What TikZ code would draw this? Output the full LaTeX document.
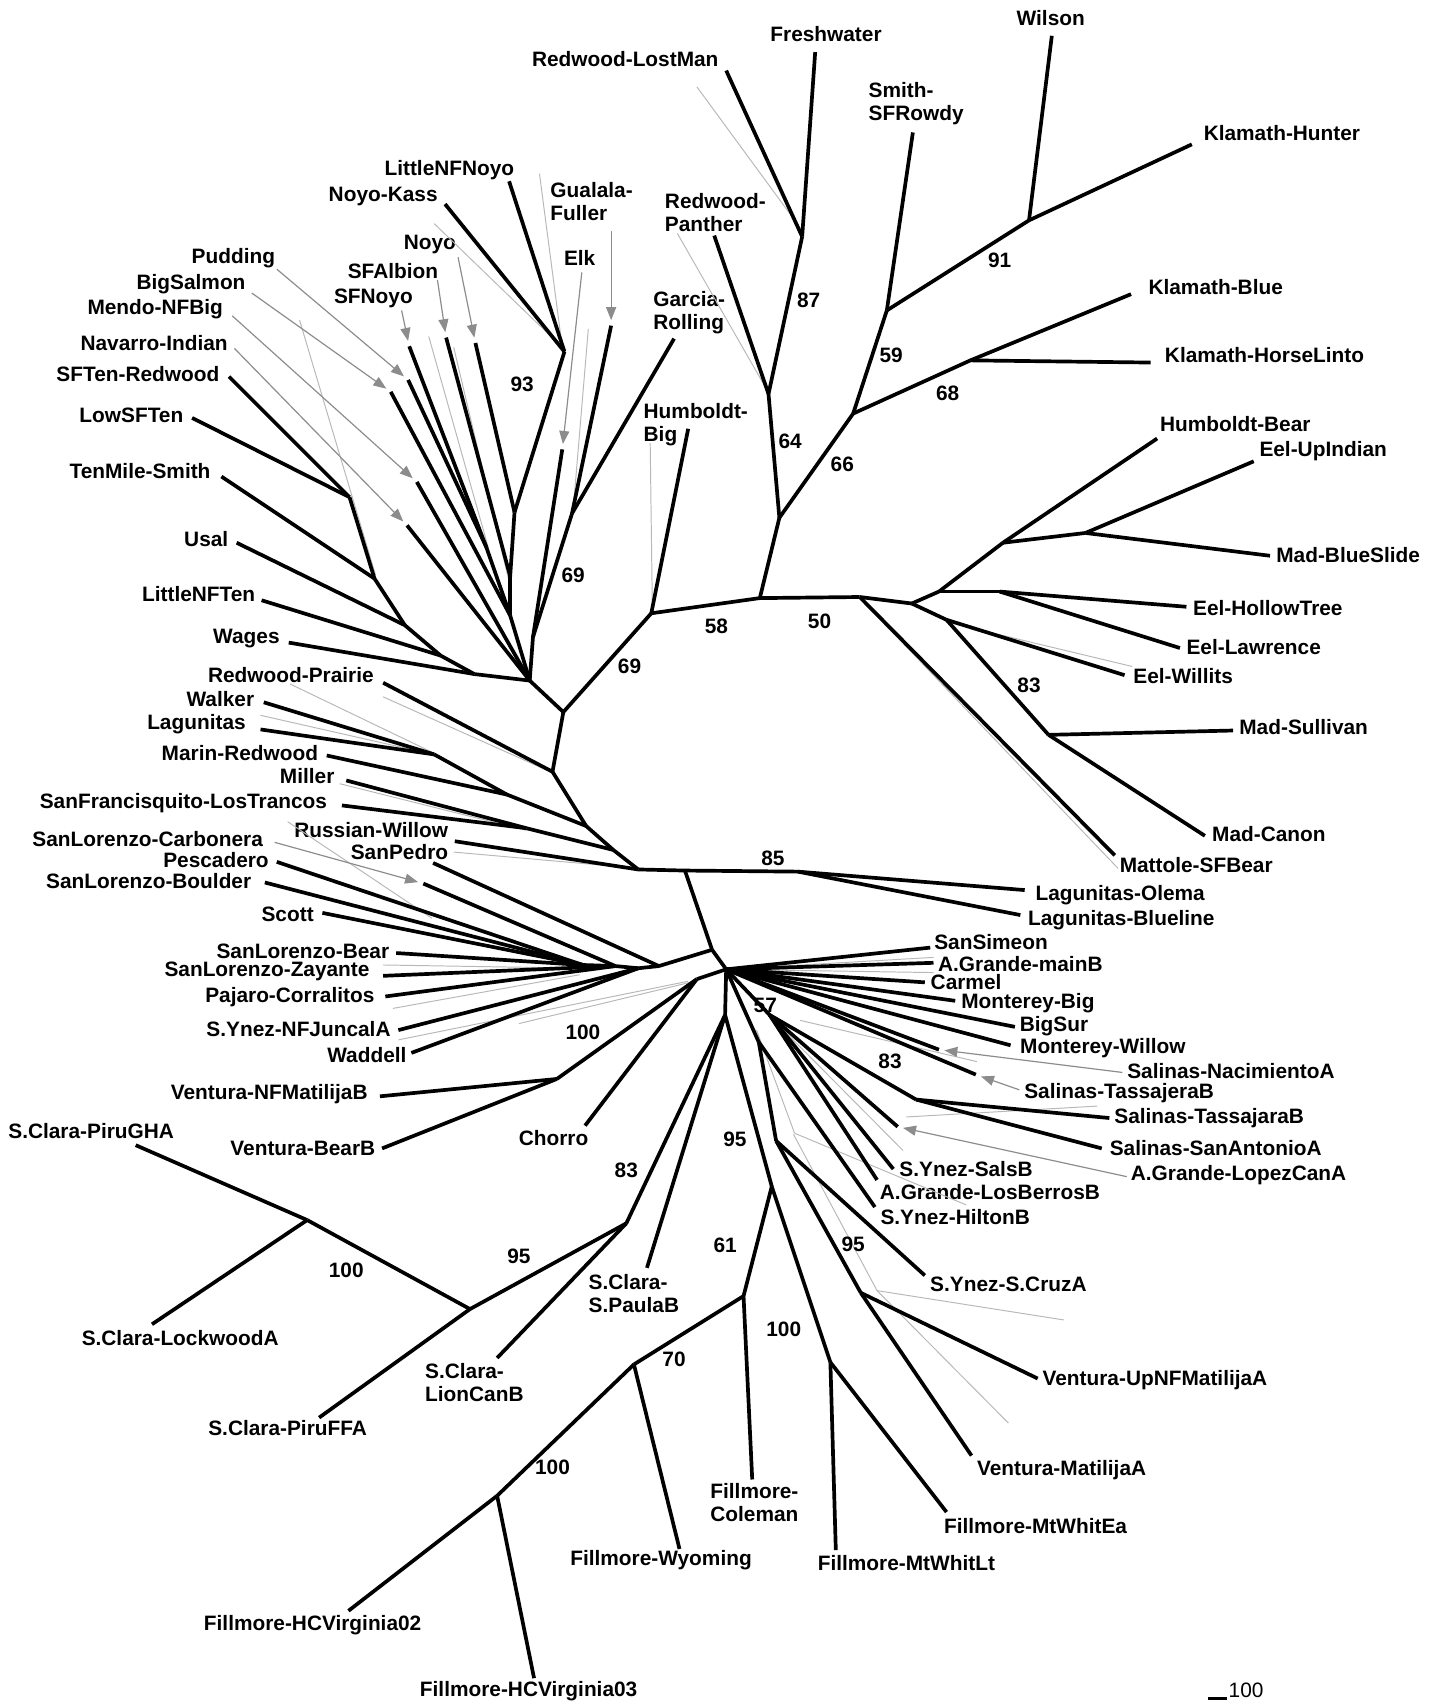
\documentclass[tikz,border=0pt]{standalone}
\usepackage{fontspec}
\setmainfont{Liberation Sans}
\usetikzlibrary{arrows.meta}

\begin{document}
\begin{tikzpicture}[x=0.5pt,y=-0.5pt,
  br/.style={line width=1.7pt},
  alt/.style={draw=black!28, line width=0.45pt},
  ptr/.style={draw=black!45, line width=0.55pt, shorten >=2.5pt,
              -{Triangle[length=6pt,width=4.6pt]}},
  lbl/.style={font=\fontsize{9.6}{10.6}\selectfont\bfseries, inner sep=0pt, align=left},
  bs/.style={font=\fontsize{9.6}{10.6}\selectfont\bfseries, inner sep=0pt},
]
\useasboundingbox (0,0) rectangle (1324,1568);

% ---------- internal junctions ----------
\foreach \n/\x/\y in {
  P1/519/656, NL/488/627, Wj/437/621, T4/406/604, T3/373/576, T2/345/533,
  T1/322/458, E/491/587, G/527/473, K2/470/567, K1/470/531, N93/474/472,
  Nnoyo/520/324, A1/448/504, H/600/565, Na/700/551, Nb/718/477,
  N87/708/363, Nfw/739/218, N66/786/381, N59/817/286, N91/948/203,
  N68/894/332, N50/792/550, Ne/840/556, Nf/865/545, Ng/924/500,
  Nh/1000/491, Ni/921/545, Nj/872/571, N83r/966/677, P2/509/711,
  W/400/695, M/467/732, P2b/540/761, M2/485/763, M3/565/783, P3/588/801,
  Q/631/802, N85/735/803, R/656/875, P4/669/893, SL/607/890, SL3/588/892,
  SL2/567/890, SL1/537/889, V0/642/902, V1/513/994, P5/668/935,
  SC3/577/1127, SC2/433/1206, SC1/283/1124, N95a/711/1093, F4/765/1255,
  F1/685/1194, F2/584/1257, F3/458/1378, N95b/715/1051, V2/793/1191,
  J/699/960, N57/709/935, N83b/844/1013}
  \coordinate (\n) at (\x,\y);

% ---------- taxa: branch tip and label ----------
\foreach \n/\ex/\ey/\lx/\ly/\txt in {
  LostMan/669/65/576/54/Redwood-LostMan,
  Freshwater/751/48/761/31/Freshwater,
  Smith/841/122/844/95/{Smith-\\SFRowdy},
  Wilson/969/33/968/17/Wilson,
  KHunter/1098/133/1181/123/Klamath-Hunter,
  KBlue/1042/271/1120/264/Klamath-Blue,
  KHorse/1060/334/1165/327/Klamath-HorseLinto,
  Panther/658/217/659/196/{Redwood-\\Panther},
  Garcia/621/312/635/288/{Garcia-\\Rolling},
  HBig/634/395/641/391/{Humboldt-\\Big},
  HBear/1066/404/1138/391/Humboldt-Bear,
  UpIndian/1155/425/1219/416/Eel-UpIndian,
  BlueSlide/1170/512/1242/511/Mad-BlueSlide,
  Hollow/1093/559/1168/560/Eel-HollowTree,
  Lawrence/1087/597/1155/596/Eel-Lawrence,
  Willits/1036/622/1090/623/Eel-Willits,
  Sullivan/1136/673/1201/670/Mad-Sullivan,
  Canon/1110/770/1169/768/Mad-Canon,
  Mattole/1027/788/1102/797/Mattole-SFBear,
  Olema/944/820/1032/825/Lagunitas-Olema,
  Blueline/940/843/1033/848/Lagunitas-Blueline,
  Gualala/563/300/545/186/{Gualala-\\Fuller},
  Elk/518/414/534/238/Elk,
  LNFNoyo/469/167/414/157/LittleNFNoyo,
  NoyoKass/410/188/353/181/Noyo-Kass,
  Noyo/438/316/396/225/Noyo,
  SFAlbion/411/311/362/250/SFAlbion,
  SFNoyo/377/319/344/275/SFNoyo,
  Pudding/376/350/215/238/Pudding,
  BigSalmon/360/361/176/262/BigSalmon,
  Mendo/384/444/143/285/Mendo-NFBig,
  Navarro/375/484/142/316/Navarro-Indian,
  SFTenRed/211/347/127/345/SFTen-Redwood,
  LowSFTen/177/385/121/383/LowSFTen,
  TenMile/204/439/129/434/TenMile-Smith,
  Usal/218/500/190/497/Usal,
  LNFTen/241/553/183/547/LittleNFTen,
  Wages/266/592/227/588/Wages,
  RPrairie/353/629/268/622/Redwood-Prairie,
  Walker/243/647/203/644/Walker,
  Lagunitas/240/672/181/667/Lagunitas,
  MarinRed/301/696/221/694/Marin-Redwood,
  Miller/319/719/283/715/Miller,
  SFLosTr/315/742/169/740/SanFrancisquito-LosTrancos,
  RussWil/419/775/342/765/Russian-Willow,
  SanPedro/399/795/368/785/SanPedro,
  Carbonera/390/814/136/773/SanLorenzo-Carbonera,
  Pescadero/255/794/199/792/Pescadero,
  Boulder/244/813/137/812/SanLorenzo-Boulder,
  Scott/297/841/265/842/Scott,
  SLBear/365/878/279/876/SanLorenzo-Bear,
  Zayante/353/899/246/895/SanLorenzo-Zayante,
  Pajaro/355/918/267/919/Pajaro-Corralitos,
  NFJuncal/367/949/275/948/S.Ynez-NFJuncalA,
  Waddell/379/970/338/972/Waddell,
  NFMatB/350/1010/248/1008/Ventura-NFMatilijaB,
  BearB/352/1058/279/1058/Ventura-BearB,
  Chorro/539/1037/510/1048/Chorro,
  PiruGHA/125/1055/84/1042/S.Clara-PiruGHA,
  Lockwood/140/1220/166/1233/S.Clara-LockwoodA,
  PiruFFA/294/1306/265/1316/S.Clara-PiruFFA,
  LionCan/458/1251/437/1274/{S.Clara-\\LionCanB},
  SPaula/596/1168/584/1192/{S.Clara-\\S.PaulaB},
  Wyoming/626/1427/609/1437/Fillmore-Wyoming,
  Coleman/693/1363/695/1384/{Fillmore-\\Coleman},
  HCVa/321/1484/288/1497/Fillmore-HCVirginia02,
  HCVb/492/1546/487/1558/Fillmore-HCVirginia03,
  MtWhitLt/770/1428/835/1440/Fillmore-MtWhitLt,
  MtWhitEa/872/1393/954/1406/Fillmore-MtWhitEa,
  MatA/895/1341/978/1354/Ventura-MatilijaA,
  UpNFMatA/956/1270/1064/1271/Ventura-UpNFMatilijaA,
  SCruz/852/1175/929/1183/S.Ynez-S.CruzA,
  Hilton/806/1112/880/1121/S.Ynez-HiltonB,
  LosBerros/808/1087/912/1098/A.Grande-LosBerrosB,
  Sals/823/1077/890/1077/S.Ynez-SalsB,
  LopezCan/827/1038/1141/1083/A.Grande-LopezCanA,
  SanAnt/1015/1058/1120/1058/Salinas-SanAntonioA,
  Tassajara/1022/1030/1114/1030/Salinas-TassajaraB,
  Tassajera/899/990/1031/1007/Salinas-TassajeraB,
  Nacim/865/967/1134/987/Salinas-NacimientoA,
  MWillow/931/963/1016/966/Monterey-Willow,
  BigSur/935/946/971/945/BigSur,
  MBig/880/922/947/924/Monterey-Big,
  Carmel/852/905/890/905/Carmel,
  AGmainB/860/887/940/888/A.Grande-mainB,
  SanSimeon/857/873/913/868/SanSimeon} {
  \coordinate (e\n) at (\ex,\ey);
  \node[lbl] (\n) at (\lx,\ly) {\txt};
}

% ---------- second tree, drawn faintly underneath ----------
\foreach \i/\ax/\ay/\bx/\by in {
  1/642/80/738/211, 2/624/215/707/360, 3/599/408/601/562, 4/497/160/518/320,
  5/400/206/518/320, 6/542/303/528/470, 7/395/310/450/505, 8/418/320/470/540,
  9/276/295/346/530, 10/353/642/507/711, 11/267/630/398/693, 12/240/659/399/695,
  13/313/722/485/765, 14/418/785/588/800, 15/265/757/398/846, 16/353/889/537/892,
  17/362/929/534/898, 18/478/943/640/904, 19/367/958/634/904, 20/669/893/860/882,
  21/669/893/860/896, 22/737/940/900/978, 23/694/921/832/1060, 24/697/949/732/1044,
  25/732/1044/890/1110, 26/835/1029/1011/1019, 27/731/1045/808/1189,
  28/808/1189/980/1216, 29/808/1189/929/1311, 30/795/554/1030/800,
  31/872/573/1043/614} {
  \coordinate (ga\i) at (\ax,\ay);
  \coordinate (gb\i) at (\bx,\by);
  \draw[alt] (ga\i) -- (gb\i);
}

% ---------- branches ----------
\foreach \a/\b in {
  P1/NL, P1/H, P1/P2,
  NL/Wj, Wj/T4, T4/T3, T3/T2, T2/T1, T1/eSFTenRed, T1/eLowSFTen, T2/eTenMile,
  T3/eUsal, T4/eLNFTen, Wj/eWages,
  NL/K2, K2/K1, K1/N93, N93/Nnoyo, Nnoyo/eLNFNoyo, Nnoyo/eNoyoKass, N93/eNoyo,
  K1/eSFAlbion, K2/A1, A1/eSFNoyo, A1/ePudding, K2/eBigSalmon, NL/eMendo,
  NL/eNavarro, NL/E, E/eElk, E/G, G/eGualala, G/eGarcia,
  H/eHBig, H/Na, Na/Nb, Na/N50, Nb/N87, Nb/N66, N87/ePanther, N87/Nfw,
  Nfw/eLostMan, Nfw/eFreshwater, N66/N59, N66/N68, N59/eSmith, N59/N91,
  N91/eWilson, N91/eKHunter, N68/eKBlue, N68/eKHorse,
  N50/eMattole, N50/Ne, Ne/Nf, Ne/Nj, Nf/Ng, Nf/Ni, Ng/eHBear, Ng/Nh,
  Nh/eUpIndian, Nh/eBlueSlide, Ni/eHollow, Ni/eLawrence, Nj/eWillits, Nj/N83r,
  N83r/eSullivan, N83r/eCanon,
  P2/eRPrairie, P2/P2b, P2b/M, M/W, W/eWalker, W/eLagunitas, M/eMarinRed,
  P2b/M3, M3/M2, M2/eMiller, M2/eSFLosTr, M3/P3, P3/eRussWil, P3/Q, Q/N85,
  N85/eOlema, N85/eBlueline, Q/R, R/P4, R/SL, SL/eSanPedro, SL/SL3, SL3/SL2,
  SL2/SL1, SL1/ePescadero, SL1/eBoulder, SL1/eScott, SL1/eSLBear,
  SL2/eZayante, SL2/ePajaro, SL2/eCarbonera, SL3/eNFJuncal, SL3/eWaddell,
  P4/V0, V0/eChorro, V0/V1, V1/eNFMatB, V1/eBearB,
  P4/P5, P5/eSPaula, P5/SC3, SC3/eLionCan, SC3/SC2, SC2/ePiruFFA, SC2/SC1,
  SC1/ePiruGHA, SC1/eLockwood,
  P5/N95a, N95a/F1, N95a/F4, F1/eColeman, F1/F2, F2/eWyoming, F2/F3,
  F3/eHCVa, F3/eHCVb, F4/eMtWhitLt, F4/eMtWhitEa,
  P4/J, J/N95b, J/eHilton, N95b/eSCruz, N95b/V2, V2/eUpNFMatA, V2/eMatA,
  P4/N57, N57/eSals, N57/eLosBerros, N57/eLopezCan, N57/N83b,
  N83b/eTassajara, N83b/eSanAnt,
  P4/eNacim, P4/eTassajera, P4/eMWillow, P4/eBigSur, P4/eMBig, P4/eCarmel,
  P4/eAGmainB, P4/eSanSimeon}
  \draw[br] (\a) -- (\b);

% ---------- pointers from crowded labels ----------
\foreach \n/\x/\y in {Gualala/563/213, Elk/536/251, Noyo/422/237,
  SFAlbion/403/258, SFNoyo/370/286, Pudding/255/248, BigSalmon/232/270,
  Mendo/214/291, Navarro/216/321, Carbonera/253/776, Nacim/1034/988,
  Tassajera/939/1004, LopezCan/1038/1084} {
  \coordinate (t\n) at (\x,\y);
  \draw[ptr] (t\n) -- (e\n);
}

% ---------- bootstrap values ----------
\foreach \x/\y/\v [count=\k] in {481/354/93, 528/530/69, 580/614/69,
  660/577/58, 755/572/50, 728/407/64, 745/277/87, 776/428/66, 821/327/59,
  921/240/91, 873/362/68, 948/631/83, 712/791/85, 537/951/100, 705/926/57,
  820/978/83, 677/1050/95, 577/1078/83, 786/1146/95, 668/1147/61,
  478/1157/95, 319/1170/100, 722/1225/100, 621/1252/70, 509/1352/100}
  \node[bs] (bs\k) at (\x,\y) {\v};

% ---------- scale bar ----------
\coordinate (sbl) at (1113,1565);
\coordinate (sbr) at (1130,1565);
\draw[line width=1.3pt] (sbl) -- (sbr);
\node[font=\fontsize{9.6}{10.6}\selectfont, inner sep=0pt] (sbt) at (1148,1557) {100};
\end{tikzpicture}
\end{document}
